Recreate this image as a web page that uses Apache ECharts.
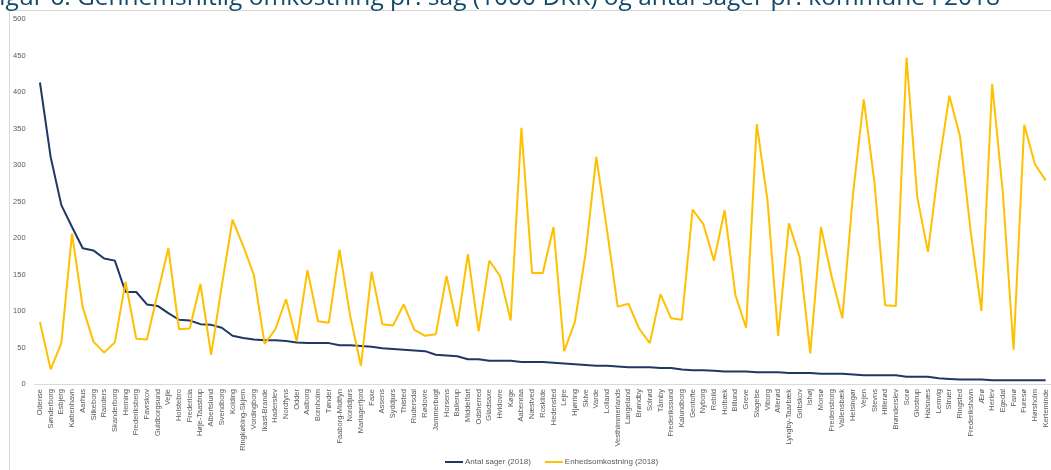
<!DOCTYPE html>
<html>
<head>
<meta charset="utf-8">
<style>html,body{margin:0;padding:0;background:#fff;}#c{width:1051px;height:470px;}</style>
<script src="https://cdn.jsdelivr.net/npm/echarts@6/dist/echarts.min.js"></script>
</head>
<body>
<div id="c"></div>
<script>
const titleText = 'Figur 6: Gennemsnitlig omkostning pr. sag (1000 DKK) og antal sager pr. kommune i 2018';
const municipalities = ['Odense','Sønderborg','Esbjerg','København','Aarhus','Silkeborg','Randers','Skanderborg','Herning','Frederiksberg',
'Favrskov','Guldborgsund','Vejle','Holstebro','Fredericia','Høje-Taastrup','Albertslund','Svendborg','Kolding','Ringkøbing-Skjern',
'Vordingborg','Ikast-Brande','Haderslev','Nordfyns','Odder','Aalborg','Bornholm','Tønder','Faaborg-Midtfyn','Norddjurs',
'Mariagerfjord','Faxe','Assens','Syddjurs','Thisted','Rudersdal','Rødovre','Jammerbugt','Horsens','Ballerup',
'Middelfart','Odsherred','Gladsaxe','Hvidovre','Køge','Aabenraa','Næstved','Roskilde','Hedensted','Lejre',
'Hjørring','Skive','Varde','Lolland','Vesthimmerlands','Langeland','Brøndby','Solrød','Tårnby','Frederikssund',
'Kalundborg','Gentofte','Nyborg','Rebild','Holbæk','Billund','Greve','Slagelse','Viborg','Allerød',
'Lyngby-Taarbæk','Gribskov','Ishøj','Morsø','Fredensborg','Vallensbæk','Helsingør','Vejen','Stevns','Hillerød',
'Brønderslev','Sorø','Glostrup','Halsnæs','Lemvig','Struer','Ringsted','Frederikshavn','Ærø','Herlev',
'Egedal','Fanø','Furesø','Hørsholm','Kerteminde'];
const antalSager = [413,311,245,215,186,183,172,169,126,126,
109,107,97,88,87,82,81,77,66,63,
61,60,60,59,57,56,56,56,53,53,
52,51,49,48,47,46,45,40,39,38,
34,34,32,32,32,30,30,30,29,28,
27,26,25,25,24,23,23,23,22,22,
20,19,19,18,17,17,17,16,16,16,
15,15,15,14,14,14,13,12,12,12,
12,10,10,10,8,7,6,6,6,5,
5,5,5,5,5];
const enhedsomkostning = [85,20,56,206,105,58,43,57,140,62,
61,124,186,75,76,137,40,135,225,189,
149,55,75,116,59,156,86,84,184,93,
25,154,82,80,109,74,66,68,148,79,
178,72,169,148,87,351,152,152,215,45,
85,179,311,211,106,110,76,56,123,90,
88,239,219,169,238,122,77,356,252,66,
220,174,42,215,147,90,261,390,276,108,
107,447,256,181,298,395,339,208,100,411,
262,47,355,301,279];
const seriesNames = ['Antal sager (2018)','Enhedsomkostning (2018)'];
const yTicks = {min:0, max:500, interval:50};

const chart = echarts.init(document.getElementById('c'), null, {renderer:'canvas'});
const lblColor = '#595959';
chart.setOption({
  animation:false,
  backgroundColor:'#fff',
  graphic:[
    {type:'rect', shape:{x:9.5, y:10.5, width:1100, height:500}, style:{fill:'none', stroke:'#d9d9d9', lineWidth:1}, z:0},
    {type:'text', x:1000, y:11, style:{text:titleText, fill:'#114a68', fontFamily:'Open Sans', fontSize:24.5, fontWeight:'normal', textAlign:'right', textVerticalAlign:'bottom'}, z:10}
  ],
  grid:{left:34.6, right:-2.3, top:19, bottom:86, containLabel:false},
  legend:{
    left:440, top:453, itemWidth:18, itemHeight:2, itemGap:14, icon:'rect',
    textStyle:{fontFamily:'Liberation Sans', fontSize:8, color:lblColor, padding:[0,0,0,-3]},
    data:seriesNames
  },
  xAxis:{
    type:'category', data:municipalities, boundaryGap:true,
    axisLine:{lineStyle:{color:'#d9d9d9', width:1}},
    axisTick:{show:false},
    axisLabel:{rotate:90, interval:0, fontFamily:'Liberation Sans', fontSize:7.5, color:lblColor, margin:5}
  },
  yAxis:{
    type:'value', min:yTicks.min, max:yTicks.max, interval:yTicks.interval,
    splitLine:{show:false}, axisLine:{show:false}, axisTick:{show:false},
    axisLabel:{fontFamily:'Liberation Sans', fontSize:7.5, color:lblColor, margin:9}
  },
  series:[
    {name:seriesNames[0], type:'line', data:antalSager, symbol:'none', lineStyle:{color:'#1f3864', width:2}, itemStyle:{color:'#1f3864'}},
    {name:seriesNames[1], type:'line', data:enhedsomkostning, symbol:'none', lineStyle:{color:'#ffc000', width:2}, itemStyle:{color:'#ffc000'}}
  ]
});
</script>
</body>
</html>
